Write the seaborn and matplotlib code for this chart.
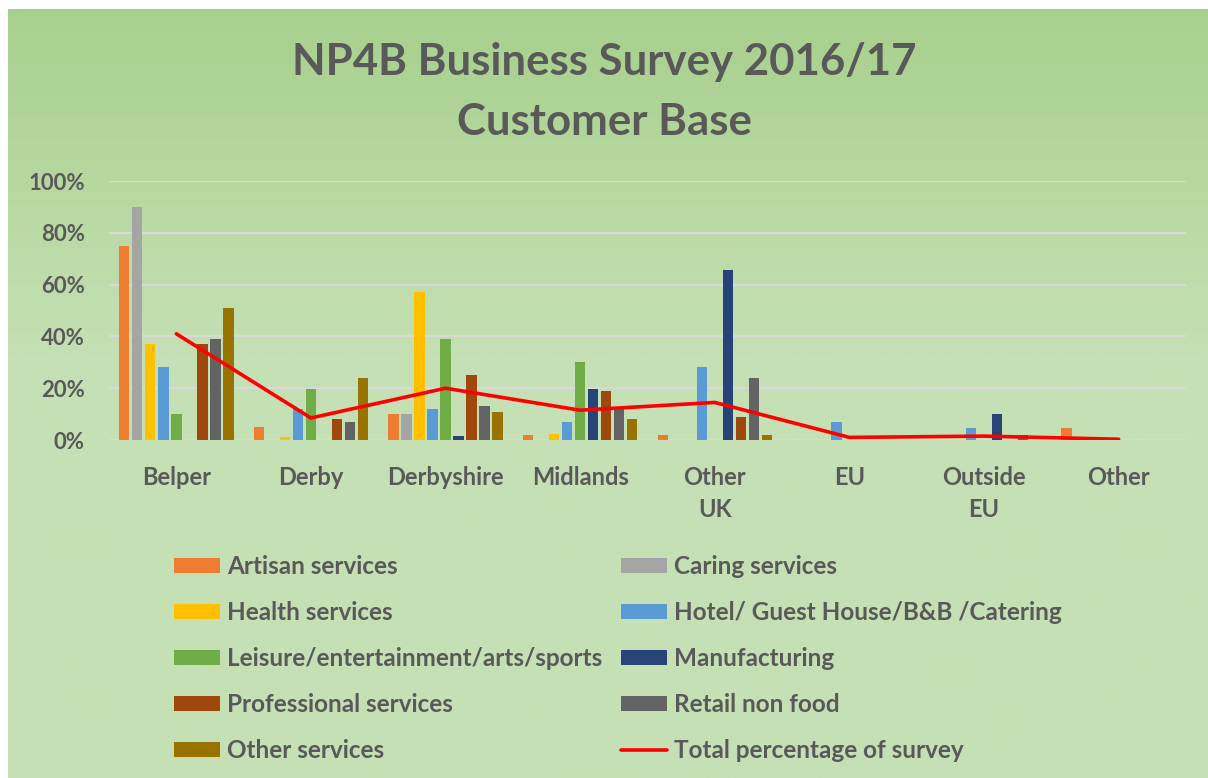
import numpy as np
import pandas as pd
import matplotlib
matplotlib.use("Agg")
import matplotlib.pyplot as plt
import seaborn as sns
from matplotlib.ticker import FuncFormatter

# ---- data ----
categories = ["Belper", "Derby", "Derbyshire", "Midlands", "Other\nUK", "EU", "Outside\nEU", "Other"]
artisan = [75, 5, 10, 2, 2, 0, 0, 4.5]
caring = [90, 0, 10, 0, 0, 0, 0, 0]
health = [37, 1, 57, 2.5, 0, 0, 0, 0]
hotel = [28, 12, 12, 7, 28, 7, 4.5, 0]
leisure = [10, 19.5, 39, 30, 0, 0, 0, 0]
manufacturing = [0, 0, 1.5, 19.5, 65.5, 0, 10, 0]
professional = [37, 8, 25, 19, 9, 0, 0, 0]
retail = [39, 7, 13, 12, 24, 0, 2, 0]
other_services = [51, 24, 11, 8, 2, 0, 0, 0]
total = [41, 8.5, 20, 11.5, 14.5, 1, 1.5, 0.3]

series_names = ["Artisan services", "Caring services", "Health services",
                "Hotel/ Guest House/B&B /Catering", "Leisure/entertainment/arts/sports",
                "Manufacturing", "Professional services", "Retail non food", "Other services"]
series_values = [artisan, caring, health, hotel, leisure, manufacturing,
                 professional, retail, other_services]
colors = ["#ED7D31", "#A5A5A5", "#FFC000", "#5B9BD5", "#70AD47",
          "#264478", "#9E480E", "#636363", "#997300"]

rows = []
for name, vals in zip(series_names, series_values):
    for c, v in zip(categories, vals):
        rows.append({"cat": c, "series": name, "value": v})
df = pd.DataFrame(rows)
df_total = pd.DataFrame({"cat": categories, "total": total})

sns.set_theme(style="white")
plt.rcParams["font.family"] = ["Lato", "DejaVu Sans"]
text_color = "#595959"

W, H = 1208, 778
fig = plt.figure(figsize=(W / 100, H / 100), dpi=100, facecolor="white")

# background gradient panel
bg = fig.add_axes([8 / W, 0, 1 - 8 / W, 1 - 9 / H], zorder=-10)
top = np.array([0xA8, 0xD0, 0x8D]) / 255
mid = np.array([0xC5, 0xE0, 0xB4]) / 255
n = 400
t = np.clip(np.linspace(0, 1, n) / 0.45, 0, 1)[:, None]
grad = top * (1 - t) + mid * t
bg.imshow(grad[:, None, :], aspect="auto", extent=[0, 1, 0, 1])
bg.set_axis_off()

ax = fig.add_axes([109 / W, 1 - 440 / H, 1077 / W, 259 / H])
ax.set_facecolor("none")

sns.barplot(data=df, x="cat", y="value", hue="series", order=categories,
            hue_order=series_names, palette=colors, width=0.87, gap=0.2,
            saturation=1, errorbar=None, ax=ax, zorder=3, linewidth=0)
sns.pointplot(data=df_total, x="cat", y="total", order=categories, color="#FF0000",
              markers="", linestyles="-", errorbar=None, ax=ax, zorder=4,
              linewidth=2.6, label="Total percentage of survey")

ax.set_ylim(0, 100)
ax.set_xlim(-0.5, len(categories) - 0.5)
ax.set_yticks([0, 20, 40, 60, 80, 100])
ax.yaxis.set_major_formatter(FuncFormatter(lambda v, p: f"{v:.0f}%"))
ax.grid(axis="y", color="#D9D9D9", linewidth=1.6, zorder=0)
ax.set_axisbelow(True)
for s in ax.spines.values():
    s.set_visible(False)
ax.set_xlabel("")
ax.set_ylabel("")
ax.tick_params(axis="both", length=0, colors=text_color)
ax.tick_params(axis="y", pad=17.5, labelsize=16)
ax.tick_params(axis="x", pad=19, labelsize=17)
for lab in ax.get_xticklabels() + ax.get_yticklabels():
    lab.set_fontweight("bold")
    lab.set_color(text_color)
for lab in ax.get_xticklabels():
    lab.set_linespacing(1.45)

handles, labels = ax.get_legend_handles_labels()
if ax.legend_:
    ax.legend_.remove()
order_left = [0, 2, 4, 6, 8]
order_right = [1, 3, 5, 7, 9]
hmap = dict(zip(labels, handles))
all_labels = series_names + ["Total percentage of survey"]
col_order = [all_labels[i] for i in order_left] + [all_labels[i] for i in order_right]
leg = fig.legend([hmap[l] for l in col_order], col_order, ncol=2,
                 loc="upper left", bbox_to_anchor=(152 / W, 1 - 533 / H),
                 frameon=False, prop={"size": 17.5, "weight": "bold"},
                 handlelength=1.9, handleheight=0.58,
                 handletextpad=0.3, labelspacing=0.95, columnspacing=0.75)
for txt in leg.get_texts():
    txt.set_color(text_color)

fig.text(0.5, 1 - 62 / H, "NP4B Business Survey 2016/17", ha="center", va="center",
         fontsize=31.5, fontweight="bold", color=text_color)
fig.text(0.5, 1 - 122 / H, "Customer Base", ha="center", va="center",
         fontsize=31.5, fontweight="bold", color=text_color)

fig.savefig("out.png", dpi=100, facecolor="white")
